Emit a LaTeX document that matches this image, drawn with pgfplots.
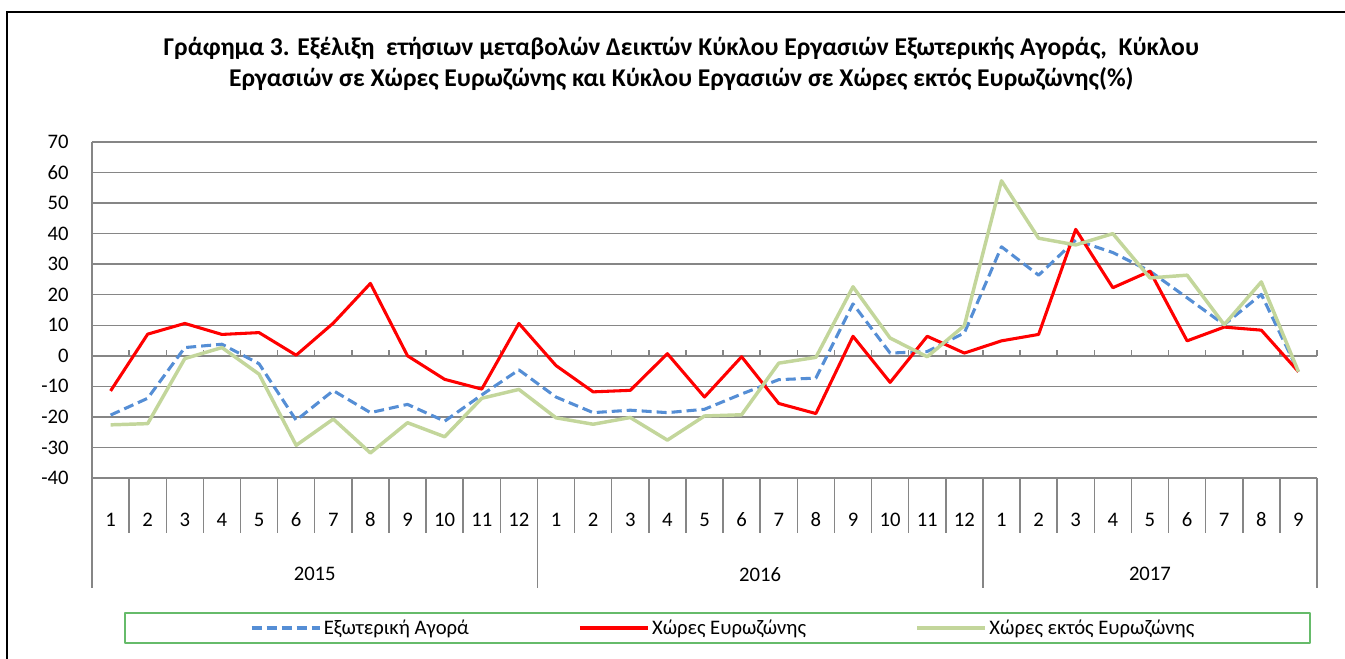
\documentclass[border=0pt]{standalone}
\usepackage{pgfplots}
\pgfplotsset{compat=1.18}
\usepackage{fontspec}
\setmainfont{Carlito}
\definecolor{cblue}{RGB}{85,142,213}
\definecolor{cred}{RGB}{255,0,0}
\definecolor{cgreen}{RGB}{195,214,155}
\definecolor{cgrid}{RGB}{134,134,134}
\definecolor{clegbox}{RGB}{102,187,106}
\begin{document}
\begin{tikzpicture}
\useasboundingbox (0,0) rectangle (1008.75pt,-494.25pt);
\draw[black, line width=1pt] (5.25pt,-494.25pt) -- (5.25pt,-9pt) -- (1008.75pt,-9pt);
\node[align=center, font=\fontsize{19.2}{23.3}\selectfont\bfseries] at (511pt,-47.6pt)
  {Γράφημα 3. Εξέλιξη \ ετήσιων μεταβολών Δεικτών Κύκλου Εργασιών Εξωτερικής Αγοράς, \ Κύκλου\\
   Εργασιών σε Χώρες Ευρωζώνης και Κύκλου Εργασιών σε Χώρες εκτός Ευρωζώνης(\%)};
\begin{axis}[
  at={(69pt,-358.5pt)}, anchor=south west,
  scale only axis, width=918.75pt, height=252pt,
  xmin=0.5, xmax=33.5, ymin=-40, ymax=70,
  ytick={-40,-30,...,70},
  xtick={1,...,33},
  xticklabels={1,2,3,4,5,6,7,8,9,10,11,12,1,2,3,4,5,6,7,8,9,10,11,12,1,2,3,4,5,6,7,8,9},
  axis x line*=bottom, axis y line*=left,
  axis line style={cgrid, line width=1.1pt},
  ymajorgrids, grid style={cgrid, line width=1.1pt},
  major tick length=0pt,
  tick style={draw=none},
  /pgf/number format/assume math mode=true,
  ticklabel style={font=\fontsize{15.5}{18}\selectfont, text=black},
  yticklabel style={xshift=-14pt},
  xticklabel style={anchor=center, yshift=-31.5pt},
  clip=false,
  legend columns=3,
  legend style={draw=none, fill=none, at={(0.5155,-0.4464)}, anchor=center,
    font=\fontsize{15.5}{18}\selectfont,
    /tikz/every even column/.append style={column sep=80pt}},
  legend image code/.code={\draw[#1] (0pt,0pt) -- (51pt,0pt);},
  line join=round,
]
% separators below the plot
\pgfplotsinvokeforeach{1,...,32}{
  \draw[cgrid, line width=1.1pt] (axis cs:#1+0.5,-40) -- (axis cs:#1+0.5,-58);
  \draw[cgrid, line width=1.1pt] (axis cs:#1+0.5,0) -- (axis cs:#1+0.5,2);
}
\draw[cgrid, line width=1.1pt] (axis cs:0.5,-40) -- (axis cs:0.5,-76);
\draw[cgrid, line width=1.1pt] (axis cs:12.5,-40) -- (axis cs:12.5,-76);
\draw[cgrid, line width=1.1pt] (axis cs:24.5,-40) -- (axis cs:24.5,-76);
\draw[cgrid, line width=1.1pt] (axis cs:33.5,-40) -- (axis cs:33.5,-76);
\draw[cgrid, line width=1.1pt] (axis cs:33.5,0) -- (axis cs:33.5,2);
\node[font=\fontsize{15.5}{18}\selectfont] at (axis cs:6.5,-71.5) {2015};
\node[font=\fontsize{15.5}{18}\selectfont] at (axis cs:18.5,-71.5) {2016};
\node[font=\fontsize{15.5}{18}\selectfont] at (axis cs:29,-71.5) {2017};
\draw[clegbox, line width=1pt] (rel axis cs:0.0269,-0.4018) rectangle (rel axis cs:0.9943,-0.491);

\addplot[cblue, line width=2.3pt, dash pattern=on 7.5pt off 3.75pt] coordinates {
(1,-19.4) (2,-13.9) (3,2.7) (4,3.8) (5,-2.6) (6,-21.1) (7,-11.4) (8,-18.6) (9,-15.9) (10,-21.4) (11,-12.8) (12,-4.6)
(13,-13.5) (14,-18.6) (15,-17.8) (16,-18.6) (17,-17.5) (18,-12.5) (19,-7.8) (20,-7.3) (21,17.0) (22,0.9) (23,1.4) (24,7.5)
(25,35.7) (26,26.4) (27,37.9) (28,33.8) (29,27.7) (30,19.0) (31,10.2) (32,20.1) (33,-5.2)};
\addlegendentry{Εξωτερική Αγορά}
\addplot[cred, line width=2.3pt] coordinates {
(1,-11.5) (2,7.1) (3,10.6) (4,7.0) (5,7.6) (6,0.2) (7,10.7) (8,23.7) (9,0) (10,-7.7) (11,-10.9) (12,10.6)
(13,-3.2) (14,-11.8) (15,-11.3) (16,0.7) (17,-13.5) (18,-0.3) (19,-15.6) (20,-18.9) (21,6.4) (22,-8.7) (23,6.4) (24,0.9)
(25,4.9) (26,7.0) (27,41.4) (28,22.3) (29,27.7) (30,4.9) (31,9.4) (32,8.4) (33,-5.2)};
\addlegendentry{Χώρες Ευρωζώνης}
\addplot[cgreen, line width=2.6pt] coordinates {
(1,-22.6) (2,-22.2) (3,-0.9) (4,2.7) (5,-6.0) (6,-29.3) (7,-20.7) (8,-31.8) (9,-21.9) (10,-26.5) (11,-13.9) (12,-11.0)
(13,-20.3) (14,-22.4) (15,-20.2) (16,-27.6) (17,-19.7) (18,-19.3) (19,-2.4) (20,-0.5) (21,22.6) (22,5.8) (23,-0.3) (24,9.9)
(25,57.3) (26,38.5) (27,36.3) (28,40.0) (29,25.5) (30,26.4) (31,10.2) (32,24.2) (33,-5.2)};
\addlegendentry{Χώρες εκτός Ευρωζώνης}
\end{axis}
\end{tikzpicture}
\end{document}
